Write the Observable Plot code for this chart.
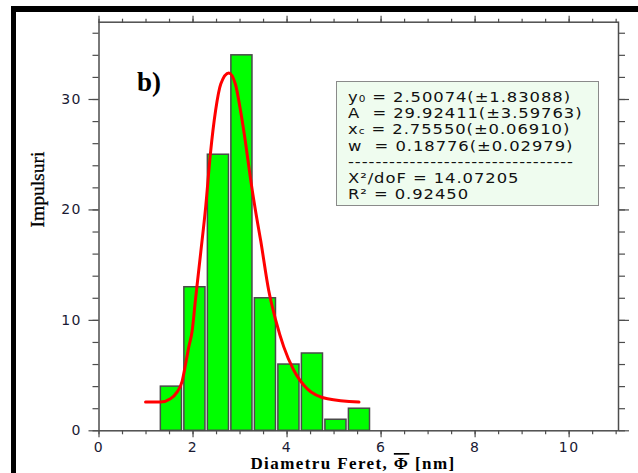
<!DOCTYPE html>
<html><head><meta charset="utf-8">
<script src="https://cdn.jsdelivr.net/npm/d3@7"></script>
<script src="https://cdn.jsdelivr.net/npm/@observablehq/plot@0.6"></script>
<style>
html,body{margin:0;padding:0;background:#fff;}
#wrap{position:relative;width:638px;height:473px;overflow:hidden;}
#borderTop{position:absolute;left:11px;top:6px;width:627px;height:6px;background:#000;}
#borderLeft{position:absolute;left:11px;top:6px;width:5px;height:467px;background:#000;}
#box{position:absolute;left:336px;top:81px;width:263px;height:125px;background:#effcef;border:1.5px solid #8a8a8a;box-sizing:border-box;color:#111;padding:7px 0 0 11px;}
#box .ln{height:16.2px;line-height:16.2px;white-space:pre;font-family:"DejaVu Sans";font-size:14px;letter-spacing:0.8px;transform:scaleX(1.17);transform-origin:0 50%;}
#box .sb{font-size:9px;}
svg{position:absolute;left:0;top:0;}
</style></head><body>
<div id="wrap"></div>
<script>
// histogram: bin centres (nm) and counts
const binCenters = [1.04, 1.54, 2.04, 2.54, 3.04, 3.54, 4.04, 4.54, 5.04, 5.54];
const counts = [0, 4, 13, 25, 34, 12, 6, 7, 1, 2];
const binWidth = 0.5;
// fitted curve, points
const fitX = [0.99, 1.31, 1.52, 1.66, 1.77, 1.84, 1.91, 1.98, 2.05, 2.16, 2.27, 2.37, 2.48, 2.59, 2.76, 2.90, 3.01, 3.12, 3.22, 3.33, 3.44, 3.61, 3.76, 3.93, 4.14, 4.43, 4.86, 5.53];
const fitY = [2.6, 2.6, 2.9, 3.5, 4.5, 6.0, 7.6, 9.0, 11.8, 16.0, 20.3, 25.1, 29.0, 31.4, 32.4, 31.4, 29.0, 26.0, 22.9, 19.9, 17.2, 12.7, 10.0, 7.6, 5.5, 3.8, 2.9, 2.6];
// ticks
const xTicks = [0, 2, 4, 6, 8, 10];
const xMinor = d3.range(0, 11.01, 0.5);
const yTicks = [0, 10, 20, 30];
const yMinor = d3.range(0, 37, 2);
// fit-result text
const fitLines = [
  'y₀ = 2.50074(±1.83088)',
  'A  = 29.92411(±3.59763)',
  'x<span class="sb">c</span> = 2.75550(±0.06910)',
  'w  = 0.18776(±0.02979)',
  '---------------------------------',
  'X²/doF = 14.07205',
  'R² = 0.92450'
];

const bars = binCenters.map((c, i) => ({x1: c - binWidth / 2, x2: c + binWidth / 2, y: counts[i]}));
const fit = fitX.map((x, i) => ({x, y: fitY[i]}));
const axStroke = "#4d4d4d";
const noText = () => "";

const plot = Plot.plot({
  width: 638, height: 473,
  marginLeft: 98.5, marginRight: 20, marginTop: 21.7, marginBottom: 42.7,
  x: {domain: [0, 11.05]},
  y: {domain: [0, 37]},
  style: {background: "transparent", fontFamily: "DejaVu Sans", fontSize: "14px", color: "#1a1a33"},
  marks: [
    Plot.rectY(bars, {x1: "x1", x2: "x2", y: "y", fill: "#00ff00", stroke: "#4a4a4a", strokeWidth: 1.5, insetLeft: 1.2, insetRight: 1.2}),
    Plot.line(fit, {x: "x", y: "y", stroke: "#ff0000", strokeWidth: 3, curve: "monotone-x"}),
    Plot.frame({stroke: axStroke, strokeWidth: 1.5}),
    Plot.axisX({anchor: "bottom", ticks: xMinor, tickSize: 4, tickFormat: noText, label: null, stroke: axStroke, strokeWidth: 1.2}),
    Plot.axisX({anchor: "bottom", ticks: xTicks, tickSize: 7, tickPadding: 4, label: null, stroke: axStroke, strokeWidth: 1.2}),
    Plot.axisX({anchor: "top", ticks: xMinor, tickSize: 4, tickFormat: noText, label: null, stroke: axStroke, strokeWidth: 1.2}),
    Plot.axisX({anchor: "top", ticks: xTicks, tickSize: 7, tickFormat: noText, label: null, stroke: axStroke, strokeWidth: 1.2}),
    Plot.axisY({anchor: "left", ticks: yMinor, tickSize: 6, tickFormat: noText, label: null, stroke: axStroke, strokeWidth: 1.2}),
    Plot.axisY({anchor: "left", ticks: yTicks, tickSize: 10, tickPadding: 7, label: null, stroke: axStroke, strokeWidth: 1.2}),
    Plot.axisY({anchor: "right", ticks: yMinor, tickSize: 6, tickFormat: noText, label: null, stroke: axStroke, strokeWidth: 1.2}),
    Plot.axisY({anchor: "right", ticks: yTicks, tickSize: 10, tickFormat: noText, label: null, stroke: axStroke, strokeWidth: 1.2}),
    Plot.text(["b)"], {frameAnchor: "top-left", dx: 38, dy: 50, textAnchor: "start", fontFamily: "Liberation Serif", fontWeight: "bold", fontSize: 27, fill: "#000"}),
    Plot.text(["Impulsuri"], {frameAnchor: "left", dx: -61, dy: 1, rotate: -90, fontFamily: "Liberation Serif", fontSize: 19.5, fill: "#000", stroke: "#000", strokeWidth: 0.3})
  ]
});

const wrap = document.getElementById("wrap");
wrap.appendChild(plot);
const svg = d3.select(plot);
svg.selectAll('[aria-label="x-axis tick label"] text, [aria-label="y-axis tick label"] text').style("letter-spacing", "1.5px");
// x-axis title with overlined Phi
const xt = svg.append("text")
  .attr("x", 353).attr("y", 469)
  .attr("text-anchor", "middle")
  .style("font-family", "Liberation Serif").style("font-weight", "bold").style("font-size", "17px").style("letter-spacing", "1.4px")
  .attr("fill", "#000");
xt.append("tspan").text("Diametru Feret, ");
xt.append("tspan").text("Φ").style("text-decoration", "overline");
xt.append("tspan").text(" [nm]");

const bt = document.createElement("div"); bt.id = "borderTop"; wrap.appendChild(bt);
const bl = document.createElement("div"); bl.id = "borderLeft"; wrap.appendChild(bl);
const box = document.createElement("div"); box.id = "box";
box.innerHTML = fitLines.map(l => `<div class="ln">${l}</div>`).join("");
wrap.appendChild(box);
</script>
</body></html>
